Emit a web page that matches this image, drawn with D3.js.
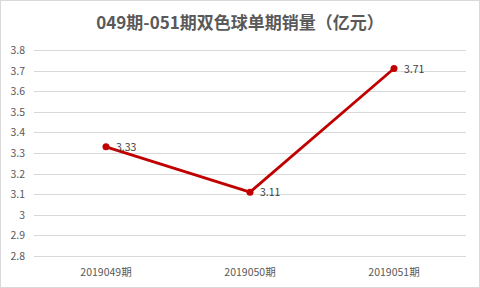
<!DOCTYPE html>
<html>
<head>
<meta charset="utf-8">
<script src="https://cdn.jsdelivr.net/npm/d3@7"></script>
<style>
  html, body { margin: 0; padding: 0; background: #fff; }
  svg { display: block; font-family: "Noto Sans CJK SC", "Noto Sans", sans-serif; }
</style>
</head>
<body>
<svg width="480" height="288"></svg>
<script>
const title = '049期-051期双色球单期销量（亿元）';
const periods = ['2019049期', '2019050期', '2019051期'];
const sales = [3.33, 3.11, 3.71];
const yTicks = [2.8, 2.9, 3, 3.1, 3.2, 3.3, 3.4, 3.5, 3.6, 3.7, 3.8];

const width = 480, height = 288;
const margin = { left: 34, right: 14, top: 50, bottom: 32 };
const svg = d3.select('svg');

// outer frame
svg.append('rect')
  .attr('x', 0.5).attr('y', 0.5)
  .attr('width', width - 1).attr('height', height - 1)
  .attr('fill', '#fff').attr('stroke', '#d9d9d9');

svg.append('text')
  .attr('x', width / 2).attr('y', 29)
  .attr('text-anchor', 'middle')
  .attr('font-size', 17).attr('font-weight', 'bold')
  .attr('fill', '#595959')
  .text(title);

const x = d3.scaleBand()
  .domain(periods)
  .range([margin.left, width - margin.right]);

const y = d3.scaleLinear()
  .domain([2.8, 3.8])
  .range([height - margin.bottom, margin.top]);

// gridlines
svg.append('g')
  .selectAll('line')
  .data(yTicks)
  .enter().append('line')
  .attr('x1', margin.left).attr('x2', width - margin.right)
  .attr('y1', d => Math.round(y(d)) + 0.5)
  .attr('y2', d => Math.round(y(d)) + 0.5)
  .attr('stroke', '#d9d9d9');

// y labels
svg.append('g')
  .selectAll('text')
  .data(yTicks)
  .enter().append('text')
  .attr('x', 25)
  .attr('y', d => y(d) + 4)
  .attr('text-anchor', 'end')
  .attr('font-size', 10.5)
  .attr('fill', '#595959')
  .text(d => d);

// x labels
svg.append('g')
  .selectAll('text')
  .data(periods)
  .enter().append('text')
  .attr('x', d => x(d) + x.bandwidth() / 2)
  .attr('y', 276)
  .attr('text-anchor', 'middle')
  .attr('font-size', 10.5)
  .attr('fill', '#595959')
  .text(d => d);

const pts = periods.map((p, i) => ({ p: p, v: sales[i] }));

const line = d3.line()
  .x(d => x(d.p) + x.bandwidth() / 2)
  .y(d => y(d.v));

svg.append('path')
  .datum(pts)
  .attr('d', line)
  .attr('fill', 'none')
  .attr('stroke', '#c00000')
  .attr('stroke-width', 2.75)
  .attr('stroke-linejoin', 'round');

svg.append('g')
  .selectAll('circle')
  .data(pts)
  .enter().append('circle')
  .attr('cx', d => x(d.p) + x.bandwidth() / 2)
  .attr('cy', d => y(d.v))
  .attr('r', 3.5)
  .attr('fill', '#c00000');

svg.append('g')
  .selectAll('text')
  .data(pts)
  .enter().append('text')
  .attr('x', d => x(d.p) + x.bandwidth() / 2 + 10)
  .attr('y', d => y(d.v) + 4)
  .attr('font-size', 10.5)
  .attr('fill', '#404040')
  .text(d => d.v.toFixed(2));
</script>
</body>
</html>
